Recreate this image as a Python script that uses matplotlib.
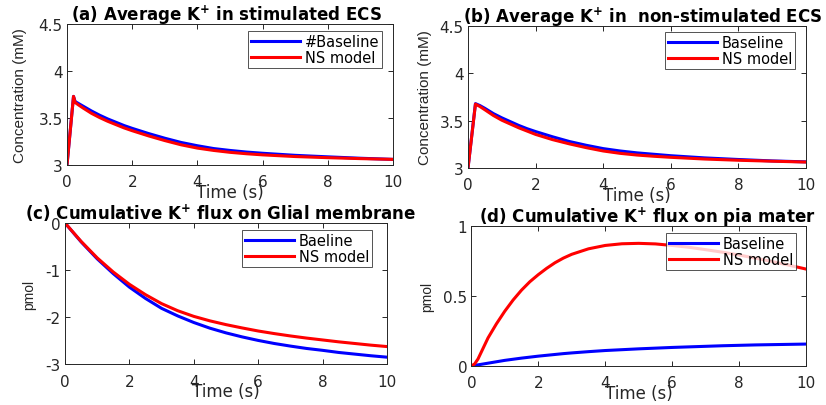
import matplotlib
matplotlib.use("Agg")
import matplotlib.pyplot as plt

plt.rcParams['font.family'] = ['DejaVu Sans']
plt.rcParams['mathtext.fontset'] = 'dejavusans'

# (a) average K+ in stimulated ECS
t_a = [0, 0.2, 0.25, 0.35, 0.5, 0.75, 1, 1.25, 1.5, 1.75, 2, 2.5, 3, 3.5,
       4, 4.5, 5, 5.5, 6, 7, 8, 9, 10]
base_a = [3.00, 3.73, 3.675, 3.655, 3.625, 3.575, 3.53, 3.49, 3.455, 3.42,
          3.39, 3.335, 3.285, 3.24, 3.205, 3.175, 3.155, 3.138, 3.125,
          3.103, 3.087, 3.072, 3.06]
ns_a = [3.00, 3.73, 3.665, 3.64, 3.605, 3.55, 3.505, 3.465, 3.43, 3.395,
        3.365, 3.31, 3.26, 3.215, 3.18, 3.155, 3.135, 3.12, 3.108,
        3.09, 3.078, 3.068, 3.06]

# (b) average K+ in non-stimulated ECS
t_b = [0, 0.22, 0.35, 0.5, 0.75, 1, 1.25, 1.5, 1.75, 2, 2.5, 3, 3.5,
       4, 4.5, 5, 5.5, 6, 7, 8, 9, 10]
base_b = [3.00, 3.68, 3.66, 3.63, 3.575, 3.53, 3.49, 3.45, 3.415, 3.385,
          3.33, 3.28, 3.24, 3.205, 3.18, 3.16, 3.145, 3.13, 3.107, 3.09,
          3.075, 3.065]
ns_b = [3.00, 3.675, 3.65, 3.615, 3.555, 3.505, 3.465, 3.425, 3.39, 3.355,
        3.30, 3.255, 3.215, 3.18, 3.155, 3.137, 3.124, 3.113, 3.095, 3.082,
        3.072, 3.063]

# (c) cumulative K+ flux on glial membrane
t_c = [0, 0.5, 1, 1.5, 2, 2.5, 3, 3.5, 4, 4.5, 5, 5.5, 6, 6.5, 7, 7.5, 8,
       8.5, 9, 9.5, 10]
base_c = [0, -0.40, -0.76, -1.075, -1.36, -1.60, -1.81, -1.97, -2.11, -2.23,
          -2.33, -2.415, -2.49, -2.555, -2.61, -2.66, -2.70, -2.745, -2.78,
          -2.815, -2.845]
ns_c = [0, -0.39, -0.74, -1.04, -1.30, -1.52, -1.71, -1.86, -1.98, -2.075,
        -2.155, -2.225, -2.29, -2.345, -2.395, -2.44, -2.48, -2.52, -2.555,
        -2.59, -2.62]

# (d) cumulative K+ flux on pia mater
t_d = [0, 0.1, 0.2, 0.35, 0.5, 0.75, 1, 1.25, 1.5, 1.75, 2, 2.25, 2.5, 2.75,
       3, 3.5, 4, 4.5, 5, 5.5, 6, 6.5, 7, 7.5, 8, 8.5, 9, 9.5, 10]
base_d = [0, 0.004, 0.008, 0.014, 0.02, 0.03, 0.04, 0.048, 0.056, 0.063,
          0.07, 0.076, 0.082, 0.088, 0.093, 0.102, 0.11, 0.116, 0.122, 0.127,
          0.132, 0.136, 0.14, 0.144, 0.147, 0.15, 0.152, 0.154, 0.156]
ns_d = [0, 0.015, 0.05, 0.125, 0.20, 0.30, 0.39, 0.47, 0.54, 0.60, 0.65,
        0.695, 0.735, 0.768, 0.795, 0.834, 0.858, 0.870, 0.873, 0.869, 0.858,
        0.845, 0.828, 0.81, 0.79, 0.767, 0.743, 0.717, 0.69]

x_ticks = [0, 2, 4, 6, 8, 10]
conc_ticks = [3, 3.5, 4, 4.5]
conc_labels = ['3', '3.5', '4', '4.5']

panels = [
    dict(rect=[0.0811, 0.5911, 0.3947, 0.3473], t=t_a, base=base_a, ns=ns_a,
         title=r'(a) Average K$^{\mathbf{+}}$ in stimulated ECS', title_x=0.489,
         ylabel='Concentration (mM)', ylsize=11, ylpad=8.5,
         ylim=(3, 4.5), yticks=conc_ticks,
         yticklabels=conc_labels, base_label='#Baseline', leg=(0.966, 0.950)),
    dict(rect=[0.5666, 0.5837, 0.4092, 0.3498], t=t_b, base=base_b, ns=ns_b,
         title=r'(b) Average K$^{\mathbf{+}}$ in  non-stimulated ECS',
         title_x=0.518,
         ylabel='Concentration (mM)', ylsize=11, ylpad=5.5,
         ylim=(3, 4.5), yticks=conc_ticks,
         yticklabels=conc_labels, base_label='Baseline', leg=(0.967, 0.958)),
    dict(rect=[0.0787, 0.0998, 0.3898, 0.3485], t=t_c, base=base_c, ns=ns_c,
         title=r'(c) Cumulative K$^{\mathbf{+}}$ flux on Glial membrane',
         title_x=0.483,
         ylabel='pmol', ylsize=10, ylpad=6.5, ylim=(-3, 0),
         yticks=[-3, -2, -1, 0],
         yticklabels=['-3', '-2', '-1', '0'], base_label='Baeline',
         leg=(0.953, 0.950)),
    dict(rect=[0.5706, 0.0961, 0.4052, 0.3460], t=t_d, base=base_d, ns=ns_d,
         title=r'(d) Cumulative K$^{\mathbf{+}}$ flux on pia mater',
         title_x=0.525,
         ylabel='pmol', ylsize=10, ylpad=6.5, ylim=(0, 1),
         yticks=[0, 0.5, 1],
         yticklabels=['0', '0.5', '1'], base_label='Baseline',
         leg=(0.970, 0.947)),
]

axis_color = '#262626'

fig = plt.figure(figsize=(8.26, 4.06), dpi=100)
for p in panels:
    ax = fig.add_axes(p['rect'])
    ax.plot(p['t'], p['base'], color='#0000ff', lw=2.2, label=p['base_label'])
    ax.plot(p['t'], p['ns'], color='#ff0000', lw=2.2, label='NS model')
    ax.set_xlim(0, 10)
    ax.set_ylim(*p['ylim'])
    ax.set_xticks(x_ticks)
    ax.set_xticklabels([str(v) for v in x_ticks])
    ax.set_yticks(p['yticks'])
    ax.set_yticklabels(p['yticklabels'])
    ax.tick_params(direction='in', length=3.5, width=0.7, top=True, right=True,
                   labelsize=11, colors=axis_color)
    ax.tick_params(axis='x', pad=6.5)
    ax.tick_params(axis='y', pad=3)
    for s in ax.spines.values():
        s.set_color(axis_color)
        s.set_linewidth(0.7)
    ax.set_xlabel('Time (s)', fontsize=12, color=axis_color, labelpad=-4.5)
    ax.set_ylabel(p['ylabel'], fontsize=p['ylsize'], color=axis_color,
                  labelpad=p['ylpad'], family='Liberation Sans')
    ax.set_title(p['title'], fontsize=12, fontweight='bold', pad=3,
                 x=p['title_x'])
    leg = ax.legend(loc='upper right', bbox_to_anchor=p['leg'], fontsize=10.5,
                    frameon=True, fancybox=False, borderpad=0.2,
                    labelspacing=0.1, handlelength=3.4, handletextpad=0.3,
                    borderaxespad=0)
    leg.get_frame().set_edgecolor(axis_color)
    leg.get_frame().set_linewidth(0.7)

fig.savefig('out.png', dpi=100)
